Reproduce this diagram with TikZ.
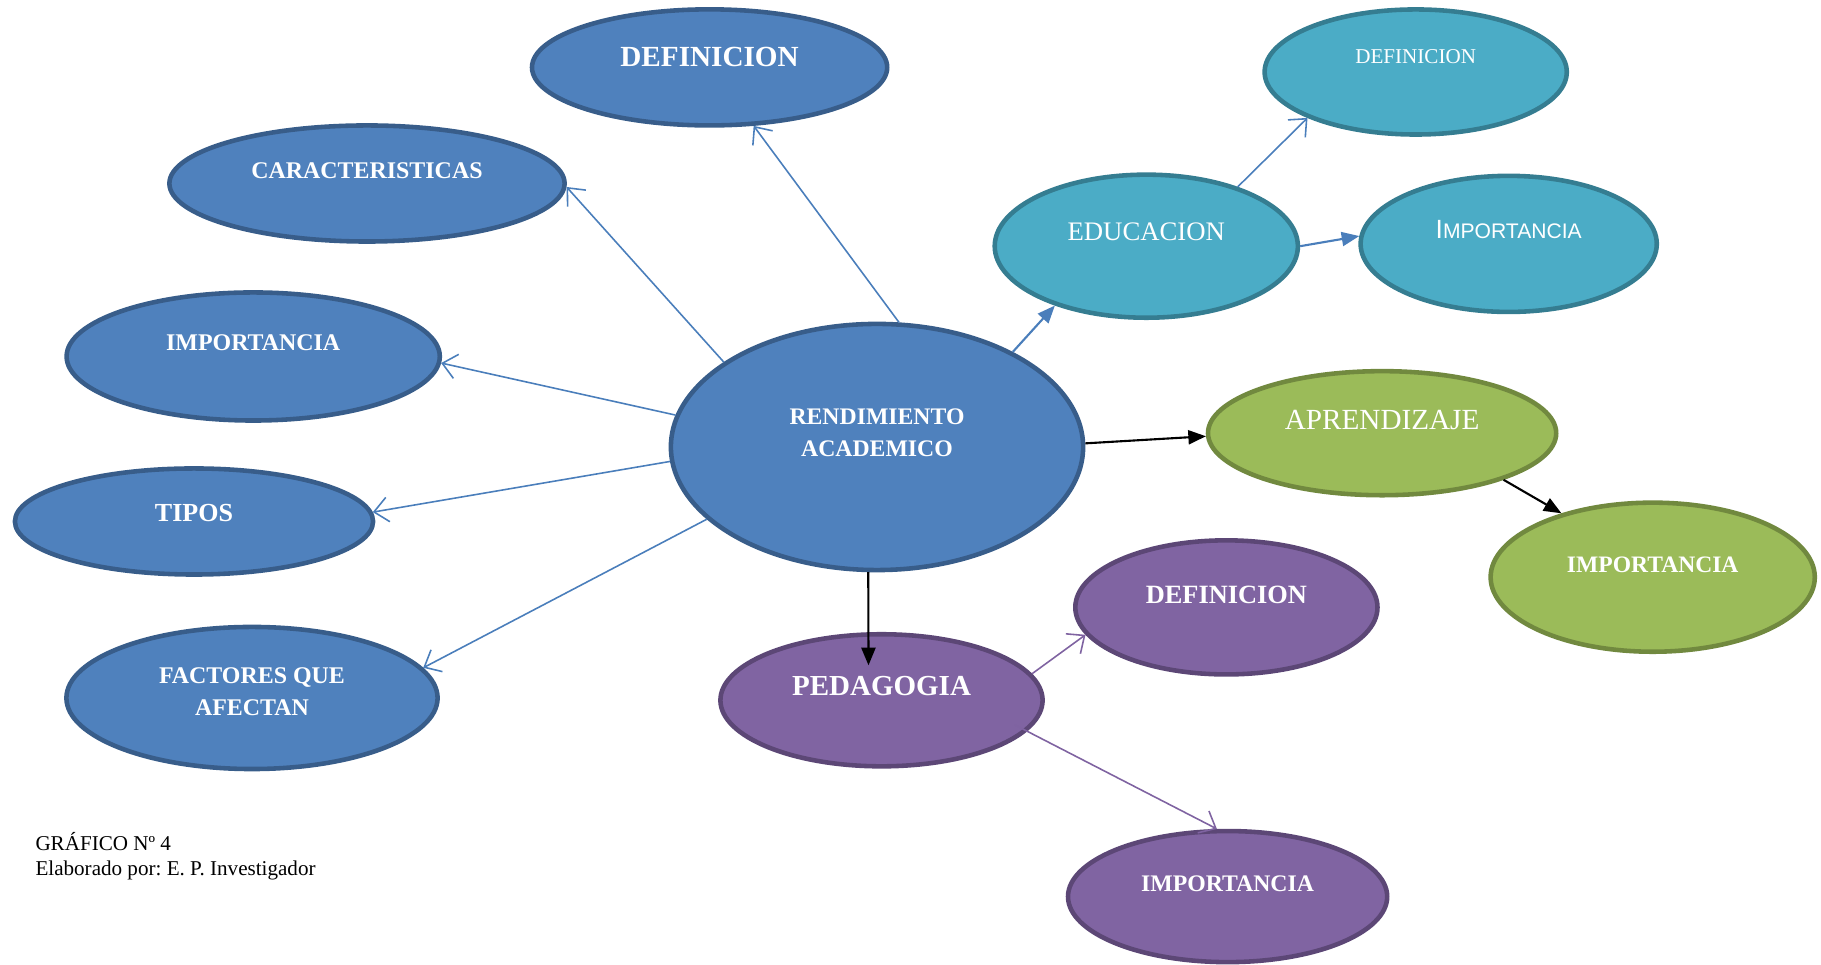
\documentclass[tikz,border=0pt]{standalone}
\usepackage{fontspec}
\setmainfont{Liberation Serif}
\newfontfamily\arialfont{Liberation Sans}
\usetikzlibrary{arrows.meta,calc,shapes.geometric}
\frenchspacing

\definecolor{azulF}{HTML}{4F81BD}
\definecolor{azulD}{HTML}{385D8A}
\definecolor{azulL}{HTML}{4A7EBB}
\definecolor{turqF}{HTML}{4BACC6}
\definecolor{turqD}{HTML}{357D91}
\definecolor{verdeF}{HTML}{9BBB59}
\definecolor{verdeD}{HTML}{71893F}
\definecolor{moradoF}{HTML}{8064A2}
\definecolor{moradoD}{HTML}{5C4776}
\definecolor{moradoL}{HTML}{7F63A1}

\begin{document}
\begin{tikzpicture}[x=0.01cm,y=-0.01cm,
		oval/.style={ellipse,line width=1.3pt,inner sep=0pt},
		azul/.style={oval,fill=azulF,draw=azulD},
		turq/.style={oval,fill=turqF,draw=turqD},
		verde/.style={oval,fill=verdeF,draw=verdeD},
		morado/.style={oval,fill=moradoF,draw=moradoD},
		txt/.style={text=white,align=center,inner sep=0pt},
		abierta/.style={line width=0.45pt,-{Straight Barb[length=4pt,width=7pt]}},
		llena/.style={line width=0.6pt,-{Triangle[length=5pt,width=4pt]}}]
	\useasboundingbox (0,0) rectangle (1821,965);
	
	% centro
	\node[azul,minimum width=4.12cm,minimum height=2.46cm] (ra) at (877,447) {};
	\node[txt,font=\fontsize{6.75}{9.2}\selectfont\bfseries] (ra-t) at ($(ra)+(0,-14)$) {RENDIMIENTO\\ACADEMICO};
	
	% lado izquierdo
	\node[azul,minimum width=3.55cm,minimum height=1.16cm] (def) at (709.6,67.4) {};
	\node[txt,font=\fontsize{8.3}{10}\selectfont\bfseries] (def-t) at ($(def)+(0,-10.5)$) {DEFINICION};
	\node[azul,minimum width=3.95cm,minimum height=1.16cm] (car) at (367,183.5) {};
	\node[txt,font=\fontsize{6.8}{8}\selectfont\bfseries] (car-t) at ($(car)+(0,-12.8)$) {CARACTERISTICAS};
	\node[azul,minimum width=3.73cm,minimum height=1.28cm] (imp) at (253.2,356.5) {};
	\node[txt,font=\fontsize{6.8}{8}\selectfont\bfseries] (imp-t) at ($(imp)+(0,-13.9)$) {IMPORTANCIA};
	\node[azul,minimum width=3.58cm,minimum height=1.06cm] (tip) at (194,521.5) {};
	\node[txt,font=\fontsize{7.4}{9}\selectfont\bfseries] (tip-t) at ($(tip)+(0,-8.2)$) {TIPOS};
	\node[azul,minimum width=3.71cm,minimum height=1.42cm] (fac) at (252,698) {};
	\node[txt,font=\fontsize{6.8}{8.9}\selectfont\bfseries] (fac-t) at ($(fac)+(0,-6.4)$) {FACTORES QUE\\AFECTAN};
	
	% educacion
	\node[turq,minimum width=3.03cm,minimum height=1.43cm] (edu) at (1146.3,246.2) {};
	\node[txt,font=\fontsize{7.6}{9}\selectfont] (edu-t) at ($(edu)+(0,-14)$) {EDUCACION};
	\node[turq,minimum width=3.02cm,minimum height=1.25cm] (edudef) at (1415.7,72) {};
	\node[txt,font=\fontsize{6}{7}\selectfont] (edudef-t) at ($(edudef)+(0,-15)$) {DEFINICION};
	\node[turq,minimum width=2.96cm,minimum height=1.36cm] (eduimp) at (1508.7,243.9) {};
	\node[txt,font=\arialfont\fontsize{6}{7}\selectfont] (eduimp-t) at ($(eduimp)+(0,-14)$) {{\fontsize{7.5}{7}\selectfont I}MPORTANCIA};
	
	% aprendizaje
	\node[verde,minimum width=3.48cm,minimum height=1.24cm] (apr) at (1382.1,433.2) {};
	\node[txt,font=\fontsize{8.3}{10}\selectfont] (apr-t) at ($(apr)+(0,-12.8)$) {APRENDIZAJE};
	\node[verde,minimum width=3.24cm,minimum height=1.49cm] (aprimp) at (1652.7,577.2) {};
	\node[txt,font=\fontsize{6.7}{8}\selectfont\bfseries] (aprimp-t) at ($(aprimp)+(0,-12.8)$) {IMPORTANCIA};
	
	% pedagogia
	\node[morado,minimum width=3.22cm,minimum height=1.32cm] (ped) at (881.5,700.3) {};
	\node[txt,font=\fontsize{8.25}{10}\selectfont\bfseries] (ped-t) at ($(ped)+(0,-14)$) {PEDAGOGIA};
	\node[morado,minimum width=3.02cm,minimum height=1.34cm] (peddef) at (1226.4,607.4) {};
	\node[txt,font=\fontsize{7.5}{9}\selectfont\bfseries] (peddef-t) at ($(peddef)+(0,-12.8)$) {DEFINICION};
	\node[morado,minimum width=3.19cm,minimum height=1.31cm] (pedimp) at (1227.6,896.6) {};
	\node[txt,font=\fontsize{6.75}{8}\selectfont\bfseries] (pedimp-t) at ($(pedimp)+(0,-12.8)$) {IMPORTANCIA};
	
	% flechas
	\draw[abierta,azulL] (ra.80.7) -- (def.-53.4);
	\draw[abierta,azulL] (ra.151.3) -- (car.-1);
	\draw[abierta,azulL] (ra.171.4) -- (imp.-2.8);
	\draw[abierta,azulL] (ra.184.2) -- (tip.3.5);
	\draw[abierta,azulL] (ra.203.1) -- (fac.10.7);
	\draw[llena,azulL] (ra.35.5) -- (edu.213);
	\draw[llena,black] (ra.1.6) -- (apr.181.5);
	\draw[llena,black] (ra.266.7) -- ($(ped)+(-13,-35)$);
	\draw[abierta,azulL] (edu.33.9) -- (edudef.203.7);
	\draw[llena,azulL] (edu.0.4) -- (eduimp.177.7);
	\draw[llena,black] (apr.-21.3) -- (aprimp.145.2);
	\draw[abierta,moradoL] (ped.10.1) -- (peddef.191.5);
	\draw[abierta,moradoL,shorten <=-4pt] (ped.-12.2) -- (pedimp.99.3);
	
	% pie
	\node[anchor=west,align=left,inner sep=0pt,font=\fontsize{6}{7}\selectfont] (pie) at (34.8,856.4) {GRÁFICO Nº 4\\Elaborado por: E. P. Investigador};
\end{tikzpicture}
\end{document}
